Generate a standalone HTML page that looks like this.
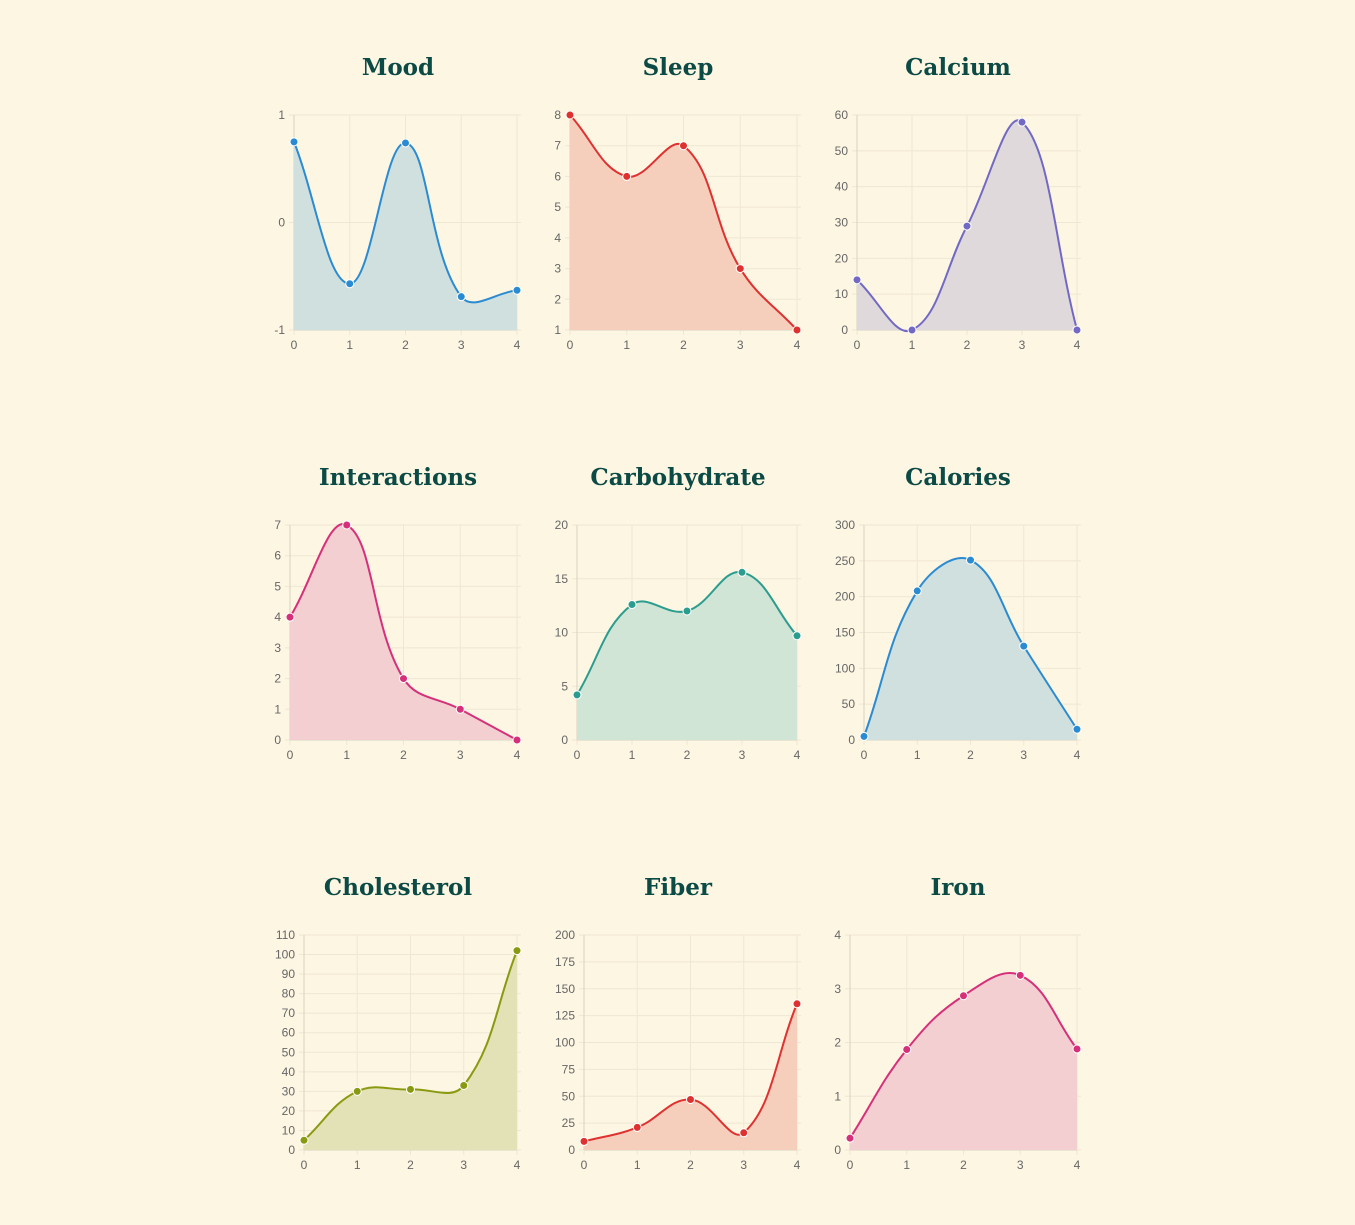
<!DOCTYPE html>
<html><head><meta charset="utf-8"><style>
html,body{margin:0;padding:0;background:#fdf6e3;}
body{width:1355px;height:1225px;position:relative;overflow:hidden;font-family:"Liberation Sans",sans-serif;}
svg{position:absolute;left:0;top:0;}
</style></head><body>
<svg id="chart" width="1355" height="1225" xmlns="http://www.w3.org/2000/svg"></svg>
<script>
const categories=[0,1,2,3,4];
const titles=["Mood","Sleep","Calcium","Interactions","Carbohydrate","Calories","Cholesterol","Fiber","Iron"];
const moodValues=[0.75,-0.57,0.74,-0.69,-0.63];
const sleepValues=[8,6,7,3,1];
const calciumValues=[14,0,29,58,0];
const interactionsValues=[4,7,2,1,0];
const carbohydrateValues=[4.2,12.6,12.0,15.6,9.7];
const caloriesValues=[5,208,251,131,15];
const cholesterolValues=[5,30,31,33,102];
const fiberValues=[8,21,47,16,136];
const ironValues=[0.22,1.87,2.87,3.25,1.88];
const moodTicks=[-1,0,1];
const sleepTicks=[1,2,3,4,5,6,7,8];
const calciumTicks=[0,10,20,30,40,50,60];
const interactionsTicks=[0,1,2,3,4,5,6,7];
const carbohydrateTicks=[0,5,10,15,20];
const caloriesTicks=[0,50,100,150,200,250,300];
const cholesterolTicks=[0,10,20,30,40,50,60,70,80,90,100,110];
const fiberTicks=[0,25,50,75,100,125,150,175,200];
const ironTicks=[0,1,2,3,4];

const series=[moodValues,sleepValues,calciumValues,interactionsValues,carbohydrateValues,caloriesValues,cholesterolValues,fiberValues,ironValues];
const ticks=[moodTicks,sleepTicks,calciumTicks,interactionsTicks,carbohydrateTicks,caloriesTicks,cholesterolTicks,fiberTicks,ironTicks];
const styles=[
 ["#2a8bd3","#d0e0de"],["#e03131","#f5cfbc"],["#7169c4","#dfd9dc"],
 ["#d6307a","#f3cfd2"],["#2a9d8f","#d1e5d6"],["#2a8bd3","#d0e0de"],
 ["#8a9a10","#e3e1b6"],["#e03131","#f5cfbc"],["#d6307a","#f3cfd2"]];
const lefts=[36,32,39,32,39,46,46,46,32];
const NS="http://www.w3.org/2000/svg";
const svg=document.getElementById('chart');
function mk(tag,attrs,parent){const e=document.createElementNS(NS,tag);for(const k in attrs)e.setAttribute(k,attrs[k]);(parent||svg).appendChild(e);return e;}
function slug(s){return s.toLowerCase();}

for(let i=0;i<9;i++){
 const col=i%3,row=Math.floor(i/3);
 const px=258+col*280, py=row*410;
 const g=mk('g',{});
 
 
 const t=mk('text',{x:px+140,y:py+75,'text-anchor':'middle','font-family':'"DejaVu Serif","Liberation Serif",serif','font-weight':'bold','font-size':'23',fill:'#0b4a45'},g);
 t.textContent=titles[i];
 
 
 const L=px+lefts[i], R=px+259, T=py+115, B=py+330;
 const tk=ticks[i], ymin=tk[0], ymax=tk[tk.length-1];
 const ys=v=>B-(v-ymin)/(ymax-ymin)*(B-T);
 const xs=c=>L+(c-categories[0])/(categories[categories.length-1]-categories[0])*(R-L);
 tk.forEach(v=>{
  const y=ys(v);
  const gl=mk('line',{x1:L-5,x2:R+4,y1:y,y2:y,stroke:'#eee7d3','stroke-width':1},g);
  
  
  const lb=mk('text',{x:L-9,y:y+4,'text-anchor':'end','font-size':'12',fill:'#666'},g);
  lb.textContent=v;
  
  
 });
 categories.forEach(c=>{
  const x=xs(c);
  const gl=mk('line',{x1:x,x2:x,y1:T,y2:B+5,stroke:'#eee7d3','stroke-width':1},g);
  
  
  const lb=mk('text',{x:x,y:B+19,'text-anchor':'middle','font-size':'12',fill:'#666'},g);
  lb.textContent=c;
  
  
 });
 mk('line',{x1:L,x2:L,y1:T,y2:B,stroke:'#d8d2c0'},g);
 mk('line',{x1:L,x2:R,y1:B,y2:B,stroke:'#d8d2c0'},g);
 const pts=categories.map((c,k)=>({x:xs(c),y:ys(series[i][k])}));
 const tension=0.4, cps=[];
 pts.forEach((p,k)=>{
  const pr=pts[k-1]||p, nx=pts[k+1]||p;
  const d01=Math.hypot(p.x-pr.x,p.y-pr.y), d12=Math.hypot(nx.x-p.x,nx.y-p.y);
  const s=d01+d12||1, fa=tension*d01/s, fb=tension*d12/s;
  cps.push({px:p.x-fa*(nx.x-pr.x),py:p.y-fa*(nx.y-pr.y),nx:p.x+fb*(nx.x-pr.x),ny:p.y+fb*(nx.y-pr.y)});
 });
 let d='M'+pts[0].x+' '+pts[0].y;
 for(let k=1;k<pts.length;k++){
  d+=' C'+cps[k-1].nx+' '+cps[k-1].ny+' '+cps[k].px+' '+cps[k].py+' '+pts[k].x+' '+pts[k].y;
 }
 const area=mk('path',{d:d+' L'+pts[pts.length-1].x+' '+B+' L'+pts[0].x+' '+B+' Z',fill:styles[i][1],stroke:'none'},g);
 
 
 const line=mk('path',{d:d,fill:'none',stroke:styles[i][0],'stroke-width':2},g);
 
 
 pts.forEach(p=>{
  const c=mk('circle',{cx:p.x,cy:p.y,r:4,fill:styles[i][0],stroke:'#fff','stroke-width':1},g);
  
  
 });
}
</script>
</body></html>
